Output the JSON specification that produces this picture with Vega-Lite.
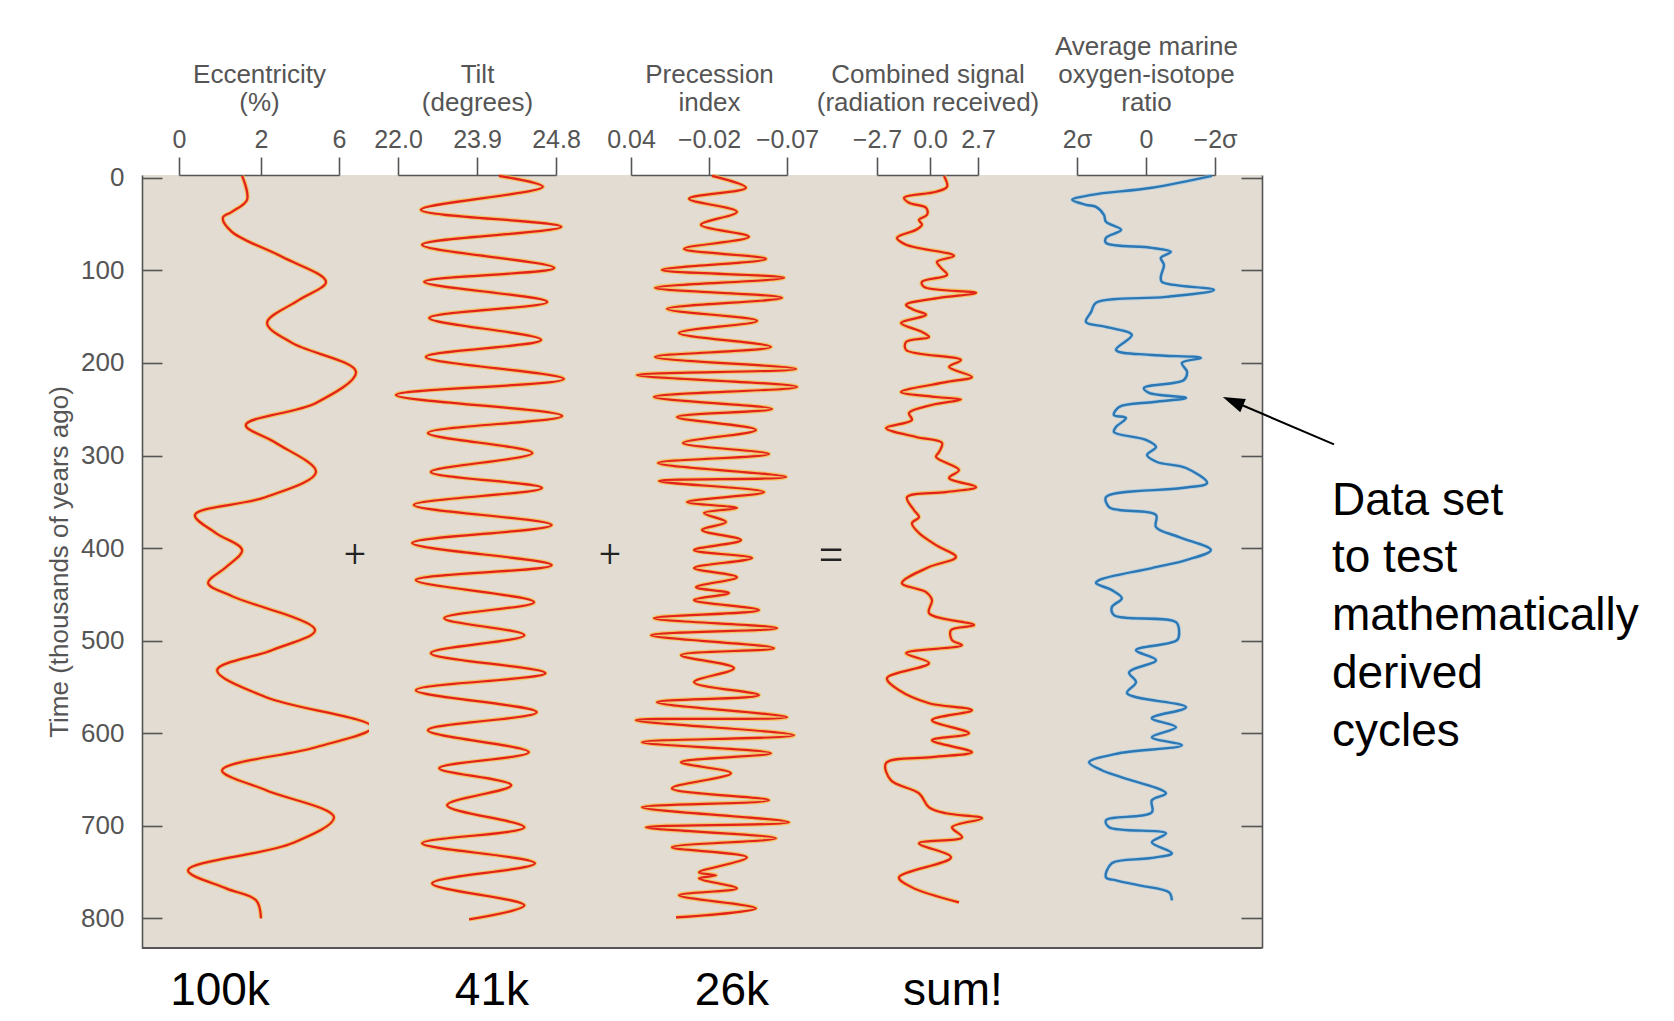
{
"$schema": "https://vega.github.io/schema/vega-lite/v6.json",
"background": "white",
"padding": {"left": 46, "top": 33, "right": 5, "bottom": 5},
"spacing": 0,
"bounds": "flush",
"config": {
  "view": {"stroke": null, "fill": "#e3dcd3"},
  "axis": {"labelFont": "Liberation Sans", "titleFont": "Liberation Sans", "labelFontSize": 25, "titleFontSize": 26, "labelColor": "#555555", "titleColor": "#555555", "titleFontWeight": "normal", "domainColor": "#555555", "tickColor": "#555555", "domainWidth": 1.6, "tickWidth": 1.6, "grid": false, "labelFlush": false, "labelOverlap": false, "titleLineHeight": 28},
  "axisTop": {"tickSize": 18, "labelPadding": 5, "titlePadding": 12},
  "axisLeft": {"tickSize": -20, "labelPadding": 38, "titlePadding": 8, "labelFontSize": 26},
  "axisRight": {"tickSize": -21, "labels": false}
},
"datasets": {
  "ecc": [{"t":-2,"v":1.54},{"t":23.8,"v":1.66},{"t":36.8,"v":1.29},{"t":43.2,"v":1.07},{"t":58.4,"v":1.29},{"t":85.4,"v":3.08},{"t":112.4,"v":5.33},{"t":131.9,"v":3.95},{"t":156.8,"v":2.31},{"t":178.4,"v":3.59},{"t":209.7,"v":6.87},{"t":243.2,"v":4.82},{"t":267,"v":1.63},{"t":286.5,"v":2.77},{"t":317.8,"v":4.82},{"t":344.9,"v":2.26},{"t":364.3,"v":0.39},{"t":383.8,"v":0.9},{"t":402.2,"v":1.54},{"t":420.5,"v":1.15},{"t":437.8,"v":0.71},{"t":451.9,"v":1.29},{"t":488.6,"v":4.77},{"t":510.3,"v":2.56},{"t":531.9,"v":0.93},{"t":561.1,"v":2.26},{"t":593.5,"v":7.69},{"t":615.1,"v":4.82},{"t":640,"v":1.05},{"t":661.6,"v":2.26},{"t":690.8,"v":5.74},{"t":718.9,"v":3.59},{"t":748.1,"v":0.22},{"t":767.6,"v":1.15},{"t":780.5,"v":1.88},{"t":800,"v":2.0}],
  "tilt": [{"t":-2,"v":24.15},{"t":9.7,"v":24.65},{"t":34.6,"v":22.55},{"t":53,"v":24.86},{"t":72.4,"v":22.58},{"t":97.3,"v":24.78},{"t":112.4,"v":22.63},{"t":134.1,"v":24.7},{"t":151.4,"v":22.75},{"t":175.1,"v":24.63},{"t":193.5,"v":22.67},{"t":217.3,"v":24.89},{"t":234.6,"v":21.95},{"t":257.3,"v":24.87},{"t":275.7,"v":22.72},{"t":297.3,"v":24.53},{"t":317.8,"v":22.79},{"t":335.1,"v":24.64},{"t":353.5,"v":22.38},{"t":375.1,"v":24.75},{"t":394.6,"v":22.34},{"t":418.4,"v":24.75},{"t":434.6,"v":22.43},{"t":458.4,"v":24.55},{"t":475.7,"v":23.11},{"t":494.1,"v":24.44},{"t":513.5,"v":22.79},{"t":535.1,"v":24.68},{"t":553.5,"v":22.43},{"t":577.3,"v":24.58},{"t":596.8,"v":22.72},{"t":620.5,"v":24.49},{"t":637.8,"v":22.99},{"t":656.2,"v":24.29},{"t":677.8,"v":23.18},{"t":701.6,"v":24.44},{"t":718.9,"v":22.58},{"t":740.5,"v":24.56},{"t":762.2,"v":22.82},{"t":785.9,"v":24.44},{"t":801.1,"v":23.71}],
  "prec": [{"t":-2,"v":-0.0219},{"t":10.8,"v":-0.0437},{"t":22.7,"v":-0.0046},{"t":36.8,"v":-0.0379},{"t":50.8,"v":-0.0138},{"t":63.8,"v":-0.0456},{"t":76.8,"v":-0.0008},{"t":87.6,"v":-0.0565},{"t":99.5,"v":0.0162},{"t":108.1,"v":-0.0681},{"t":118.9,"v":0.0215},{"t":129.7,"v":-0.0668},{"t":141.6,"v":0.0123},{"t":154.6,"v":-0.0508},{"t":167.6,"v":0.0031},{"t":182.7,"v":-0.0597},{"t":193.5,"v":0.0215},{"t":206.5,"v":-0.0758},{"t":213,"v":0.0354},{"t":225.9,"v":-0.0764},{"t":236.8,"v":0.0223},{"t":249.7,"v":-0.0604},{"t":258.4,"v":0.0046},{"t":272.4,"v":-0.0501},{"t":286.5,"v":0.0},{"t":298.4,"v":-0.0584},{"t":308.1,"v":0.0192},{"t":323.2,"v":-0.0694},{"t":327.6,"v":0.0185},{"t":339.5,"v":-0.0553},{"t":350.3,"v":-0.0031},{"t":356.8,"v":-0.0379},{"t":362.2,"v":-0.0162},{"t":371.9,"v":-0.0309},{"t":380.5,"v":-0.0146},{"t":391.4,"v":-0.0405},{"t":402.2,"v":-0.0085},{"t":410.8,"v":-0.0476},{"t":421.6,"v":-0.0085},{"t":431.4,"v":-0.0379},{"t":442.2,"v":-0.01},{"t":448.6,"v":-0.0328},{"t":456.2,"v":-0.0085},{"t":467,"v":-0.052},{"t":475.7,"v":0.0223},{"t":486.5,"v":-0.0636},{"t":494.1,"v":0.0246},{"t":508.1,"v":-0.0617},{"t":515.7,"v":0.0015},{"t":529.7,"v":-0.036},{"t":544.9,"v":-0.0085},{"t":558.9,"v":-0.052},{"t":566.5,"v":0.02},{"t":582.7,"v":-0.07},{"t":585.9,"v":0.0362},{"t":602.2,"v":-0.0745},{"t":609.7,"v":0.0315},{"t":621.6,"v":-0.0597},{"t":631.4,"v":0.0015},{"t":643.2,"v":-0.0341},{"t":659.5,"v":0.0085},{"t":672.4,"v":-0.0584},{"t":680,"v":0.0315},{"t":696.2,"v":-0.0713},{"t":701.6,"v":0.0285},{"t":713.5,"v":-0.0629},{"t":723.2,"v":0.0085},{"t":734.1,"v":-0.0443},{"t":750.3,"v":-0.0123},{"t":753.5,"v":-0.0245},{"t":756.8,"v":-0.0123},{"t":767.6,"v":-0.0379},{"t":775.1,"v":0.0031},{"t":789.2,"v":-0.0501},{"t":798.9,"v":0.0054}],
  "comb": [{"t":-2,"v":0.79},{"t":9.7,"v":0.96},{"t":15.1,"v":0.34},{"t":21.6,"v":-1.32},{"t":27,"v":-1.07},{"t":32.4,"v":-0.2},{"t":40,"v":-0.15},{"t":45.4,"v":-0.56},{"t":50.8,"v":-0.41},{"t":56.2,"v":-0.71},{"t":64.9,"v":-1.68},{"t":72.4,"v":-1.22},{"t":84.3,"v":1.35},{"t":90.8,"v":0.39},{"t":97.3,"v":0.62},{"t":104.9,"v":0.96},{"t":112.4,"v":-0.41},{"t":117.8,"v":-0.31},{"t":124.3,"v":2.59},{"t":129.7,"v":0.51},{"t":137.3,"v":-1.22},{"t":142.7,"v":-0.82},{"t":148.1,"v":-0.2},{"t":156.8,"v":-1.48},{"t":166.5,"v":-0.41},{"t":171.9,"v":-0.05},{"t":177.3,"v":-1.22},{"t":185.9,"v":-1.22},{"t":196.8,"v":1.74},{"t":204.3,"v":1.07},{"t":215.1,"v":2.36},{"t":220.5,"v":0.96},{"t":231.4,"v":-1.48},{"t":236.8,"v":0.34},{"t":239.5,"v":1.74},{"t":245.4,"v":0.1},{"t":254.1,"v":-1.07},{"t":261.6,"v":-0.92},{"t":270.3,"v":-2.24},{"t":280,"v":-0.71},{"t":286.5,"v":0.68},{"t":296.2,"v":0.51},{"t":301.6,"v":0.34},{"t":315.7,"v":1.63},{"t":324.3,"v":1.07},{"t":334.1,"v":2.59},{"t":339.5,"v":0.9},{"t":344.9,"v":-1.17},{"t":358.9,"v":-0.82},{"t":366.5,"v":-0.56},{"t":373,"v":-0.92},{"t":383.8,"v":-0.56},{"t":396.8,"v":0.34},{"t":409.7,"v":1.46},{"t":420.5,"v":-0.05},{"t":437.8,"v":-1.43},{"t":447.6,"v":-0.2},{"t":456.2,"v":0.11},{"t":470.3,"v":-0.05},{"t":483.2,"v":2.48},{"t":488.6,"v":1.18},{"t":499.5,"v":1.24},{"t":504.9,"v":1.8},{"t":513.5,"v":-1.22},{"t":524.3,"v":-0.05},{"t":540.5,"v":-2.19},{"t":553.5,"v":-1.58},{"t":567.6,"v":-0.05},{"t":575.1,"v":2.36},{"t":585.9,"v":0.11},{"t":600,"v":2.19},{"t":607.6,"v":0.11},{"t":620.5,"v":2.36},{"t":625.9,"v":0.11},{"t":632.4,"v":-2.24},{"t":650.8,"v":-1.99},{"t":664.9,"v":-0.56},{"t":680,"v":-0.05},{"t":686.5,"v":0.9},{"t":691.9,"v":2.93},{"t":701.6,"v":1.24},{"t":712.4,"v":1.8},{"t":718.9,"v":-0.56},{"t":734.1,"v":1.18},{"t":755.7,"v":-1.58},{"t":766.5,"v":-0.92},{"t":782.7,"v":1.63}],
  "iso": [{"t":-2,"v":-1.91},{"t":10.8,"v":-0.17},{"t":18.4,"v":1.57},{"t":23.8,"v":2.14},{"t":29.2,"v":1.74},{"t":31.4,"v":1.45},{"t":40,"v":1.22},{"t":47.6,"v":1.16},{"t":56.2,"v":0.72},{"t":64.9,"v":1.16},{"t":70.3,"v":1.16},{"t":75.7,"v":-0.17},{"t":80,"v":-0.72},{"t":86.5,"v":-0.43},{"t":94.1,"v":-0.52},{"t":107,"v":-0.43},{"t":112.4,"v":-0.46},{"t":121.1,"v":-1.97},{"t":128.6,"v":-0.58},{"t":135.1,"v":1.45},{"t":144.9,"v":1.59},{"t":155.7,"v":1.74},{"t":161.1,"v":1.16},{"t":169.7,"v":0.41},{"t":185.9,"v":0.87},{"t":191.4,"v":-0.17},{"t":194.6,"v":-1.59},{"t":200,"v":-1.04},{"t":209.7,"v":-1.19},{"t":218.4,"v":-1.1},{"t":227,"v":0.06},{"t":232.4,"v":-0.09},{"t":237.8,"v":-1.16},{"t":242.2,"v":-0.23},{"t":247.6,"v":0.78},{"t":256.2,"v":0.93},{"t":259.5,"v":0.58},{"t":269.2,"v":0.87},{"t":274.6,"v":0.93},{"t":283.2,"v":0.0},{"t":290.8,"v":-0.29},{"t":299.5,"v":-0.03},{"t":307,"v":-0.32},{"t":313.5,"v":-1.16},{"t":329.7,"v":-1.77},{"t":335.1,"v":-1.04},{"t":344.9,"v":1.16},{"t":355.7,"v":1.07},{"t":358.9,"v":0.78},{"t":364.3,"v":-0.29},{"t":377.3,"v":-0.29},{"t":388.1,"v":-0.96},{"t":402.2,"v":-1.88},{"t":413,"v":-1.16},{"t":421.6,"v":-0.17},{"t":434.6,"v":1.36},{"t":437.8,"v":1.45},{"t":445.4,"v":0.99},{"t":454.1,"v":0.7},{"t":463.8,"v":0.99},{"t":472.4,"v":0.93},{"t":480,"v":-0.87},{"t":490.8,"v":-0.96},{"t":499.5,"v":-0.9},{"t":510.3,"v":0.29},{"t":521.1,"v":-0.29},{"t":534.1,"v":0.49},{"t":544.9,"v":0.29},{"t":556.8,"v":0.55},{"t":571.9,"v":-1.16},{"t":583.8,"v":-0.17},{"t":593.5,"v":-0.87},{"t":604.3,"v":-0.17},{"t":613,"v":-1.04},{"t":621.6,"v":0.78},{"t":631.4,"v":1.65},{"t":640,"v":1.28},{"t":647.6,"v":0.7},{"t":664.9,"v":-0.58},{"t":672.4,"v":-0.17},{"t":685.4,"v":-0.17},{"t":694.1,"v":1.16},{"t":701.6,"v":1.07},{"t":708.1,"v":-0.58},{"t":717.8,"v":-0.17},{"t":729.7,"v":-0.75},{"t":735.1,"v":-0.09},{"t":740.5,"v":0.99},{"t":755.7,"v":1.16},{"t":758.9,"v":0.87},{"t":764.3,"v":0.2},{"t":771.9,"v":-0.67},{"t":780.5,"v":-0.75}],
  "plus1": [{"s":"+","t":409,"v":6.82}],
  "lab1": [{"s":"100k","t":894,"v":1.0}],
  "lab2": [{"s":"41k","t":894,"v":24.07}],
  "plus3": [{"s":"+","t":409,"v":0.0562}],
  "lab3": [{"s":"26k","t":894,"v":-0.0347}],
  "eq4": [{"s":"=","t":409,"v":-5.04}],
  "lab4": [{"s":"sum!","t":894,"v":1.29}],
  "note5": [{"s":"Data set","t":364.3,"v":-5.39},{"s":"to test","t":425.9,"v":-5.39},{"s":"mathematically","t":488.6,"v":-5.39},{"s":"derived","t":551.4,"v":-5.39},{"s":"cycles","t":614.1,"v":-5.39}],
  "arrow5": [{"v":-5.45,"t":288,"v2":-2.52,"t2":241.4}]
},
"hconcat": [
  {"width": 227, "height": 773, "layer": [
    {"data": {"name": "ecc"}, "mark": {"type": "line", "interpolate": "catmull-rom", "stroke": "#f6bd45", "strokeWidth": 4.5, "opacity": 0.75},
     "encoding": {"x": {"field": "v", "type": "quantitative", "scale": {"domain": [0,2,6], "range": [37,119,197], "nice": false, "zero": false}, "axis": {"orient": "top", "values": [0,2,6], "format": "d", "title": ["Eccentricity", "(%)"]}},
                  "y": {"field": "t", "type": "quantitative", "scale": {"domain": [-3,832], "reverse": true, "nice": false, "zero": false}, "axis": {"orient": "left", "values": [0,100,200,300,400,500,600,700,800], "title": "Time (thousands of years ago)"}},
                  "order": {"field": "t", "type": "quantitative"}}},
    {"data": {"name": "ecc"}, "mark": {"type": "line", "interpolate": "catmull-rom", "stroke": "#e4221c", "strokeWidth": 2.2},
     "encoding": {"x": {"field": "v", "type": "quantitative", "scale": {"domain": [0,2,6], "range": [37,119,197], "nice": false, "zero": false}},
                  "y": {"field": "t", "type": "quantitative", "scale": {"domain": [-3,832], "reverse": true, "nice": false, "zero": false}},
                  "order": {"field": "t", "type": "quantitative"}}},
    {"data": {"name": "plus1"}, "mark": {"type": "text", "font": "Roboto", "fontWeight": 300, "fontSize": 38, "fill": "#222222", "align": "center", "baseline": "middle"},
     "encoding": {"x": {"field": "v", "type": "quantitative", "scale": {"domain": [0,2,6], "range": [37,119,197], "nice": false, "zero": false}},
                  "y": {"field": "t", "type": "quantitative", "scale": {"domain": [-3,832], "reverse": true, "nice": false, "zero": false}},
                  "text": {"field": "s"}}},
    {"data": {"name": "lab1"}, "mark": {"type": "text", "font": "Liberation Sans", "fontSize": 46, "fill": "black", "align": "center", "baseline": "alphabetic"},
     "encoding": {"x": {"field": "v", "type": "quantitative", "scale": {"domain": [0,2,6], "range": [37,119,197], "nice": false, "zero": false}},
                  "y": {"field": "t", "type": "quantitative", "scale": {"domain": [-3,832], "reverse": true, "nice": false, "zero": false}},
                  "text": {"field": "s"}}},
    {"data": {"values": [{}]}, "mark": {"type": "rule", "stroke": "#555555", "strokeWidth": 2},
     "encoding": {"y": {"datum": 832, "type": "quantitative", "scale": {"domain": [-3,832], "reverse": true, "nice": false, "zero": false}}}}
  ]},
  {"width": 210, "height": 773, "layer": [
    {"data": {"name": "tilt"}, "mark": {"type": "line", "interpolate": "catmull-rom", "stroke": "#f6bd45", "strokeWidth": 4.5, "opacity": 0.75},
     "encoding": {"x": {"field": "v", "type": "quantitative", "scale": {"domain": [22.0,23.9,24.8], "range": [29,108,187], "nice": false, "zero": false}, "axis": {"orient": "top", "values": [22.0,23.9,24.8], "format": ".1f", "title": ["Tilt", "(degrees)"]}},
                  "y": {"field": "t", "type": "quantitative", "scale": {"domain": [-3,832], "reverse": true, "nice": false, "zero": false}, "axis": null},
                  "order": {"field": "t", "type": "quantitative"}}},
    {"data": {"name": "tilt"}, "mark": {"type": "line", "interpolate": "catmull-rom", "stroke": "#e4221c", "strokeWidth": 2.2},
     "encoding": {"x": {"field": "v", "type": "quantitative", "scale": {"domain": [22.0,23.9,24.8], "range": [29,108,187], "nice": false, "zero": false}},
                  "y": {"field": "t", "type": "quantitative", "scale": {"domain": [-3,832], "reverse": true, "nice": false, "zero": false}, "axis": null},
                  "order": {"field": "t", "type": "quantitative"}}},
    {"data": {"name": "lab2"}, "mark": {"type": "text", "font": "Liberation Sans", "fontSize": 46, "fill": "black", "align": "center", "baseline": "alphabetic"},
     "encoding": {"x": {"field": "v", "type": "quantitative", "scale": {"domain": [22.0,23.9,24.8], "range": [29,108,187], "nice": false, "zero": false}},
                  "y": {"field": "t", "type": "quantitative", "scale": {"domain": [-3,832], "reverse": true, "nice": false, "zero": false}, "axis": null},
                  "text": {"field": "s"}}},
    {"data": {"values": [{}]}, "mark": {"type": "rule", "stroke": "#555555", "strokeWidth": 2},
     "encoding": {"y": {"datum": 832, "type": "quantitative", "scale": {"domain": [-3,832], "reverse": true, "nice": false, "zero": false}, "axis": null}}}
  ]},
  {"width": 230, "height": 773, "layer": [
    {"data": {"name": "prec"}, "mark": {"type": "line", "interpolate": "catmull-rom", "stroke": "#f6bd45", "strokeWidth": 4.5, "opacity": 0.75},
     "encoding": {"x": {"field": "v", "type": "quantitative", "scale": {"domain": [0.04,-0.02,-0.07], "range": [52,130,208], "nice": false, "zero": false}, "axis": {"orient": "top", "values": [0.04,-0.02,-0.07], "format": ".2f", "title": ["Precession", "index"]}},
                  "y": {"field": "t", "type": "quantitative", "scale": {"domain": [-3,832], "reverse": true, "nice": false, "zero": false}, "axis": null},
                  "order": {"field": "t", "type": "quantitative"}}},
    {"data": {"name": "prec"}, "mark": {"type": "line", "interpolate": "catmull-rom", "stroke": "#e4221c", "strokeWidth": 2.2},
     "encoding": {"x": {"field": "v", "type": "quantitative", "scale": {"domain": [0.04,-0.02,-0.07], "range": [52,130,208], "nice": false, "zero": false}},
                  "y": {"field": "t", "type": "quantitative", "scale": {"domain": [-3,832], "reverse": true, "nice": false, "zero": false}, "axis": null},
                  "order": {"field": "t", "type": "quantitative"}}},
    {"data": {"name": "plus3"}, "mark": {"type": "text", "font": "Roboto", "fontWeight": 300, "fontSize": 38, "fill": "#222222", "align": "center", "baseline": "middle"},
     "encoding": {"x": {"field": "v", "type": "quantitative", "scale": {"domain": [0.04,-0.02,-0.07], "range": [52,130,208], "nice": false, "zero": false}},
                  "y": {"field": "t", "type": "quantitative", "scale": {"domain": [-3,832], "reverse": true, "nice": false, "zero": false}, "axis": null},
                  "text": {"field": "s"}}},
    {"data": {"name": "lab3"}, "mark": {"type": "text", "font": "Liberation Sans", "fontSize": 46, "fill": "black", "align": "center", "baseline": "alphabetic"},
     "encoding": {"x": {"field": "v", "type": "quantitative", "scale": {"domain": [0.04,-0.02,-0.07], "range": [52,130,208], "nice": false, "zero": false}},
                  "y": {"field": "t", "type": "quantitative", "scale": {"domain": [-3,832], "reverse": true, "nice": false, "zero": false}, "axis": null},
                  "text": {"field": "s"}}},
    {"data": {"values": [{}]}, "mark": {"type": "rule", "stroke": "#555555", "strokeWidth": 2},
     "encoding": {"y": {"datum": 832, "type": "quantitative", "scale": {"domain": [-3,832], "reverse": true, "nice": false, "zero": false}, "axis": null}}}
  ]},
  {"width": 230, "height": 773, "layer": [
    {"data": {"name": "comb"}, "mark": {"type": "line", "interpolate": "catmull-rom", "stroke": "#f6bd45", "strokeWidth": 4.5, "opacity": 0.75},
     "encoding": {"x": {"field": "v", "type": "quantitative", "scale": {"domain": [-2.7,0,2.7], "range": [68,121,169], "nice": false, "zero": false}, "axis": {"orient": "top", "values": [-2.7,0,2.7], "format": ".1f", "title": ["Combined signal", "(radiation received)"]}},
                  "y": {"field": "t", "type": "quantitative", "scale": {"domain": [-3,832], "reverse": true, "nice": false, "zero": false}, "axis": null},
                  "order": {"field": "t", "type": "quantitative"}}},
    {"data": {"name": "comb"}, "mark": {"type": "line", "interpolate": "catmull-rom", "stroke": "#e4221c", "strokeWidth": 2.2},
     "encoding": {"x": {"field": "v", "type": "quantitative", "scale": {"domain": [-2.7,0,2.7], "range": [68,121,169], "nice": false, "zero": false}},
                  "y": {"field": "t", "type": "quantitative", "scale": {"domain": [-3,832], "reverse": true, "nice": false, "zero": false}, "axis": null},
                  "order": {"field": "t", "type": "quantitative"}}},
    {"data": {"name": "eq4"}, "mark": {"type": "text", "font": "Roboto", "fontWeight": 300, "fontSize": 50, "fill": "#222222", "align": "center", "baseline": "middle"},
     "encoding": {"x": {"field": "v", "type": "quantitative", "scale": {"domain": [-2.7,0,2.7], "range": [68,121,169], "nice": false, "zero": false}},
                  "y": {"field": "t", "type": "quantitative", "scale": {"domain": [-3,832], "reverse": true, "nice": false, "zero": false}, "axis": null},
                  "text": {"field": "s"}}},
    {"data": {"name": "lab4"}, "mark": {"type": "text", "font": "Liberation Sans", "fontSize": 46, "fill": "black", "align": "center", "baseline": "alphabetic"},
     "encoding": {"x": {"field": "v", "type": "quantitative", "scale": {"domain": [-2.7,0,2.7], "range": [68,121,169], "nice": false, "zero": false}},
                  "y": {"field": "t", "type": "quantitative", "scale": {"domain": [-3,832], "reverse": true, "nice": false, "zero": false}, "axis": null},
                  "text": {"field": "s"}}},
    {"data": {"values": [{}]}, "mark": {"type": "rule", "stroke": "#555555", "strokeWidth": 2},
     "encoding": {"y": {"datum": 832, "type": "quantitative", "scale": {"domain": [-3,832], "reverse": true, "nice": false, "zero": false}, "axis": null}}}
  ]},
  {"width": 223, "height": 773, "layer": [
    {"data": {"name": "iso"}, "mark": {"type": "line", "interpolate": "catmull-rom", "stroke": "#9cc6e4", "strokeWidth": 4, "opacity": 0.6},
     "encoding": {"x": {"field": "v", "type": "quantitative", "scale": {"domain": [2,0,-2], "range": [38,107,176], "nice": false, "zero": false}, "axis": {"orient": "top", "values": [2,0,-2], "labelExpr": "datum.value == 0 ? '0' : (datum.value > 0 ? '2σ' : '−2σ')", "title": ["Average marine", "oxygen-isotope", "ratio"]}},
                  "y": {"field": "t", "type": "quantitative", "scale": {"domain": [-3,832], "reverse": true, "nice": false, "zero": false}, "axis": {"orient": "right", "values": [0,100,200,300,400,500,600,700,800], "labels": false, "title": null}},
                  "order": {"field": "t", "type": "quantitative"}}},
    {"data": {"name": "iso"}, "mark": {"type": "line", "interpolate": "catmull-rom", "stroke": "#2b78b5", "strokeWidth": 2.4},
     "encoding": {"x": {"field": "v", "type": "quantitative", "scale": {"domain": [2,0,-2], "range": [38,107,176], "nice": false, "zero": false}},
                  "y": {"field": "t", "type": "quantitative", "scale": {"domain": [-3,832], "reverse": true, "nice": false, "zero": false}},
                  "order": {"field": "t", "type": "quantitative"}}},
    {"data": {"name": "arrow5"}, "mark": {"type": "rule", "stroke": "black", "strokeWidth": 2},
     "encoding": {"x": {"field": "v", "type": "quantitative", "scale": {"domain": [2,0,-2], "range": [38,107,176], "nice": false, "zero": false}},
                  "y": {"field": "t", "type": "quantitative", "scale": {"domain": [-3,832], "reverse": true, "nice": false, "zero": false}},
                  "x2": {"field": "v2"}, "y2": {"field": "t2"}}},
    {"data": {"name": "arrow5"}, "mark": {"type": "point", "shape": "M0,-1L0.65,1L-0.65,1Z", "filled": true, "fill": "black", "strokeWidth": 0, "opacity": 1, "size": 484, "angle": 293},
     "encoding": {"x": {"field": "v2", "type": "quantitative", "scale": {"domain": [2,0,-2], "range": [38,107,176], "nice": false, "zero": false}},
                  "y": {"field": "t2", "type": "quantitative", "scale": {"domain": [-3,832], "reverse": true, "nice": false, "zero": false}}}},
    {"data": {"name": "note5"}, "mark": {"type": "text", "font": "Liberation Sans", "fontSize": 46, "fill": "black", "align": "left", "baseline": "alphabetic"},
     "encoding": {"x": {"field": "v", "type": "quantitative", "scale": {"domain": [2,0,-2], "range": [38,107,176], "nice": false, "zero": false}},
                  "y": {"field": "t", "type": "quantitative", "scale": {"domain": [-3,832], "reverse": true, "nice": false, "zero": false}},
                  "text": {"field": "s"}}},
    {"data": {"values": [{}]}, "mark": {"type": "rule", "stroke": "#555555", "strokeWidth": 2},
     "encoding": {"y": {"datum": 832, "type": "quantitative", "scale": {"domain": [-3,832], "reverse": true, "nice": false, "zero": false}}}}
  ]}
]
}
